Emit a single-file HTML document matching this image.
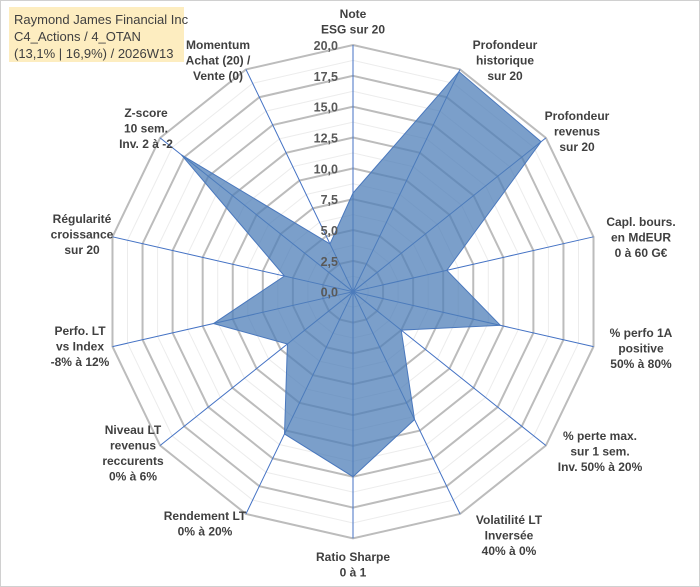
<!DOCTYPE html>
<html><head><meta charset="utf-8"><style>
html,body{margin:0;padding:0;background:#fff}
svg{display:block;font-family:"Liberation Sans",Arial,sans-serif}
.lab{font-size:12px;font-weight:bold;fill:#404040}
.tick{font-size:12.5px;font-weight:bold;fill:#595959}
</style></head><body>
<svg id="chart" width="700" height="587">
<rect x="0.5" y="0.5" width="699" height="586" fill="#fff" stroke="#d0d0d0"/>
<g id="grid"></g>
<g id="axes"></g>
<g id="series"></g>
<g id="ticks"></g>
<g id="labels"></g>
<rect x="9" y="7" width="175" height="55" fill="#fdedc0"/>
<text x="14" y="24" font-size="13" fill="#404040">Raymond James Financial Inc</text>
<text x="14" y="41" font-size="13" fill="#404040">C4_Actions / 4_OTAN</text>
<text x="14" y="58" font-size="13" fill="#404040">(13,1% | 16,9%) / 2026W13</text>
</svg>
<script>
const categories=[["Note","ESG sur 20"],["Profondeur","historique","sur 20"],["Profondeur","revenus","sur 20"],["Capl. bours.","en MdEUR","0 à 60 G€"],["% perfo 1A","positive","50% à 80%"],["% perte max.","sur 1 sem.","Inv. 50% à 20%"],["Volatilité LT","Inversée","40% à 0%"],["Ratio Sharpe","0 à 1"],["Rendement LT","0% à 20%"],["Niveau LT","revenus","reccurents","0% à 6%"],["Perfo. LT","vs Index","-8% à 12%"],["Régularité","croissance","sur 20"],["Z-score","10 sem.","Inv. 2 à -2"],["Momentum","Achat (20) /","Vente (0)"]];
const values=[8.0,19.8,19.5,7.8,12.25,5.0,11.5,15.0,12.8,6.8,11.6,5.7,17.8,4.3];
const tickLabels=["0,0","2,5","5,0","7,5","10,0","12,5","15,0","17,5","20,0"];
const labelPos=[[353,14],[505,45],[577,116],[641,222],[641,333],[600,436],[509,520],[353,557],[205,516],[133,430],[80,331],[82,219],[146,113],[218,45]];
const NS="http://www.w3.org/2000/svg";
const cx=353,cy=291.7,R=246.7,maxV=20,N=categories.length;
function ang(i){return 2*Math.PI*i/N;}
function pt(i,v){const r=v/maxV*R;return [cx+r*Math.sin(ang(i)),cy-r*Math.cos(ang(i))];}
function mk(t,a,p){const e=document.createElementNS(NS,t);for(const k in a)e.setAttribute(k,a[k]);p.appendChild(e);return e;}
const grid=document.getElementById('grid');
for(let s=1;s<=16;s++){const v=s*1.25;const pts=[];for(let i=0;i<N;i++)pts.push(pt(i,v).join(','));
 const major=s%2===0;
 const e=mk('polygon',{points:pts.join(' '),fill:'none',stroke:major?'#bcbcbc':'#ececec','stroke-width':major?2:1},grid);
 
 }
const axes=document.getElementById('axes');
for(let i=0;i<N;i++){const p=pt(i,maxV);const e=mk('line',{x1:cx,y1:cy,x2:p[0],y2:p[1],stroke:'#4472c4','stroke-width':1},axes);
 
 }
const ser=document.getElementById('series');
const sp=values.map((v,i)=>pt(i,v).join(',')).join(' ');
const poly=mk('polygon',{points:sp,fill:'#4f7fb8','fill-opacity':0.75,stroke:'#4a78bd','stroke-width':1},ser);


const ticks=document.getElementById('ticks');
tickLabels.forEach((t,k)=>{const v=k*2.5;const y=cy-v/maxV*R;const e=mk('text',{x:338,y:y+5,'text-anchor':'end',class:'tick'},ticks);e.textContent=t;
 
 });
const labs=document.getElementById('labels');
categories.forEach((c,i)=>{const g=mk('text',{class:'lab','text-anchor':'middle'},labs);
 
 
 c.forEach((l,j)=>{const ts=mk('tspan',{x:labelPos[i][0],y:labelPos[i][1]+4+j*15.5},g);ts.textContent=l;});});
</script>
</body></html>
